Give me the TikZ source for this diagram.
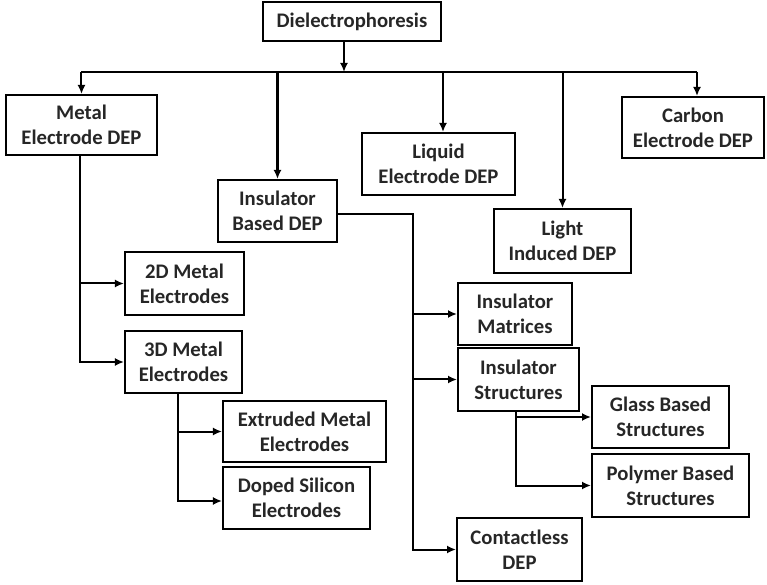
\documentclass[tikz,border=0pt]{standalone}
\usepackage{fontspec}
\setmainfont{Carlito}
\usetikzlibrary{arrows.meta,calc}

\begin{document}
\begin{tikzpicture}[
x=1pt,y=1pt,
box/.style={draw,line width=2pt,align=center,inner sep=0pt,
  font=\fontsize{20.7}{25}\selectfont\bfseries,text=black!85},
link/.style={line width=2pt},
arrow/.style={line width=2pt,-{Latex[length=9pt,width=8pt]}}
]

%%%%%%%%%%%%%%%%%%%%%%%%%%%%%%%%%%%%%%%%%%%%%%%%%%%%%%
% FRAME (invisible, fixes the page)
%%%%%%%%%%%%%%%%%%%%%%%%%%%%%%%%%%%%%%%%%%%%%%%%%%%%%%

\node[
inner sep=0pt,
outer sep=0pt,
minimum width=767pt,
minimum height=585pt
](frame){};

%%%%%%%%%%%%%%%%%%%%%%%%%%%%%%%%%%%%%%%%%%%%%%%%%%%%%%
% ROOT
%%%%%%%%%%%%%%%%%%%%%%%%%%%%%%%%%%%%%%%%%%%%%%%%%%%%%%

\node[
box,
minimum width=178pt,
minimum height=39pt
](dep)
at ([xshift=352pt,yshift=-21.5pt]frame.north west)
{Dielectrophoresis};

\coordinate (split) at ([xshift=344pt,yshift=-72pt]frame.north west);

%%%%%%%%%%%%%%%%%%%%%%%%%%%%%%%%%%%%%%%%%%%%%%%%%%%%%%
% FIRST LEVEL
%%%%%%%%%%%%%%%%%%%%%%%%%%%%%%%%%%%%%%%%%%%%%%%%%%%%%%

\node[
box,
minimum width=151pt,
minimum height=60pt
](metal)
at ([xshift=81.5pt,yshift=-125pt]frame.north west)
{Metal\\Electrode DEP};

\node[
box,
minimum width=119pt,
minimum height=62pt
](insul)
at ([xshift=277.5pt,yshift=-211pt]frame.north west)
{Insulator\\Based DEP};

\node[
box,
minimum width=153pt,
minimum height=62pt
](liquid)
at ([xshift=438.5pt,yshift=-164pt]frame.north west)
{Liquid\\Electrode DEP};

\node[
box,
minimum width=137pt,
minimum height=64pt
](light)
at ([xshift=562.5pt,yshift=-241pt]frame.north west)
{Light\\Induced DEP};

\node[
box,
minimum width=142pt,
minimum height=61pt
](carbon)
at ([xshift=693pt,yshift=-127.5pt]frame.north west)
{Carbon\\Electrode DEP};

%%%%%%%%%%%%%%%%%%%%%%%%%%%%%%%%%%%%%%%%%%%%%%%%%%%%%%
% METAL ELECTRODES
%%%%%%%%%%%%%%%%%%%%%%%%%%%%%%%%%%%%%%%%%%%%%%%%%%%%%%

\node[
box,
minimum width=119pt,
minimum height=63pt
](twod)
at ([xshift=184.5pt,yshift=-283.5pt]frame.north west)
{2D Metal\\Electrodes};

\node[
box,
minimum width=117pt,
minimum height=62pt
](threed)
at ([xshift=183.5pt,yshift=-362pt]frame.north west)
{3D Metal\\Electrodes};

\node[
box,
minimum width=163pt,
minimum height=61pt
](extruded)
at ([xshift=304.5pt,yshift=-431.5pt]frame.north west)
{Extruded Metal\\Electrodes};

\node[
box,
minimum width=147pt,
minimum height=62pt
](doped)
at ([xshift=296.5pt,yshift=-498pt]frame.north west)
{Doped Silicon\\Electrodes};

%%%%%%%%%%%%%%%%%%%%%%%%%%%%%%%%%%%%%%%%%%%%%%%%%%%%%%
% INSULATOR BRANCH
%%%%%%%%%%%%%%%%%%%%%%%%%%%%%%%%%%%%%%%%%%%%%%%%%%%%%%

\coordinate (trunk) at ([xshift=413pt]frame.north west);

\node[
box,
minimum width=114pt,
minimum height=62pt
](matrices)
at ([xshift=515pt,yshift=-314pt]frame.north west)
{Insulator\\Matrices};

\node[
box,
minimum width=121pt,
minimum height=63pt
](structs)
at ([xshift=518.5pt,yshift=-379.5pt]frame.north west)
{Insulator\\Structures};

\node[
box,
minimum width=137pt,
minimum height=62pt
](glass)
at ([xshift=660.5pt,yshift=-417pt]frame.north west)
{Glass Based\\Structures};

\node[
box,
minimum width=157pt,
minimum height=63pt
](polymer)
at ([xshift=670.5pt,yshift=-485.5pt]frame.north west)
{Polymer Based\\Structures};

\node[
box,
minimum width=125pt,
minimum height=63pt
](contactless)
at ([xshift=519.5pt,yshift=-549.5pt]frame.north west)
{Contactless\\DEP};

%%%%%%%%%%%%%%%%%%%%%%%%%%%%%%%%%%%%%%%%%%%%%%%%%%%%%%
% LINES
%%%%%%%%%%%%%%%%%%%%%%%%%%%%%%%%%%%%%%%%%%%%%%%%%%%%%%

\draw[arrow] (dep.south -| split) -- (split);

\draw[link] (metal.north |- split) -- ([xshift=4pt]carbon.north |- split);

\draw[arrow] (metal.north |- split) -- (metal.north);
\draw[arrow] (insul.north |- split) -- (insul.north);
\draw[arrow] ([xshift=4.5pt]liquid.north |- split) -- ([xshift=4.5pt]liquid.north);
\draw[arrow] (light.north |- split) -- (light.north);
\draw[arrow] ([xshift=4pt]carbon.north |- split) -- ([xshift=4pt]carbon.north);

\draw[arrow] ([xshift=-1.5pt]metal.south) |- (threed.west);
\draw[arrow] ([xshift=-1.5pt]metal.south |- twod.west) -- (twod.west);

\draw[arrow] ([xshift=-5.5pt]threed.south) |- ([yshift=-3pt]doped.west);
\draw[arrow] ([xshift=-5.5pt]threed.south |- extruded.west) -- (extruded.west);

\draw[arrow] ([yshift=-3pt]insul.east) -- ([yshift=-3pt]insul.east -| trunk) |- (contactless.west);
\draw[arrow] (trunk |- matrices.west) -- (matrices.west);
\draw[arrow] (trunk |- structs.west) -- (structs.west);

\draw[arrow] ([xshift=-2.5pt]structs.south) |- (polymer.west);
\draw[arrow] ([xshift=-2.5pt]structs.south |- glass.west) -- (glass.west);

\end{tikzpicture}
\end{document}
